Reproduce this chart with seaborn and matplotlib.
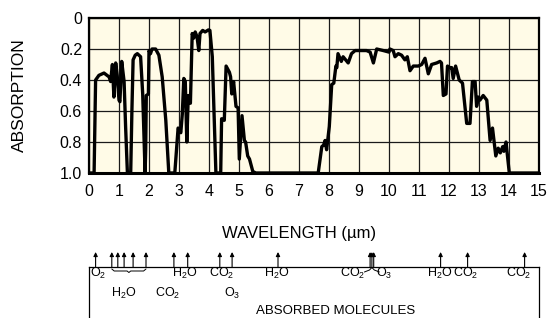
import matplotlib
matplotlib.use("Agg")
import matplotlib.pyplot as plt
import seaborn as sns
import pandas as pd

# absorption spectrum
wavelength = [0, 0.17, 0.22, 0.33, 0.5, 0.67, 0.72, 0.78, 0.83, 0.89, 0.94, 1.0, 1.03, 1.09,
              1.17, 1.22, 1.28, 1.39, 1.43, 1.47, 1.54, 1.61, 1.72, 1.79, 1.87, 1.89, 1.91,
              1.98, 2.0, 2.05, 2.1, 2.22, 2.33, 2.44, 2.56, 2.66, 2.86, 2.97, 3.06, 3.11,
              3.16, 3.21, 3.26, 3.31, 3.38, 3.44, 3.49, 3.54, 3.6, 3.66, 3.7, 3.79, 3.87,
              3.98, 4.03, 4.11, 4.17, 4.23, 4.39, 4.42, 4.51, 4.57, 4.68, 4.72, 4.76, 4.82,
              4.9, 4.97, 5.01, 5.1, 5.18, 5.22, 5.29, 5.35, 5.46, 5.56, 7.64, 7.76, 7.82,
              7.87, 7.92, 8.01, 8.09, 8.16, 8.23, 8.26, 8.3, 8.41, 8.47, 8.64, 8.75, 8.87,
              9.03, 9.25, 9.37, 9.48, 9.59, 9.81, 10.0, 10.03, 10.14, 10.2, 10.31, 10.42,
              10.53, 10.61, 10.7, 10.81, 10.98, 11.09, 11.2, 11.31, 11.42, 11.59, 11.7,
              11.75, 11.81, 11.9, 11.95, 12.03, 12.09, 12.14, 12.22, 12.34, 12.45, 12.59,
              12.7, 12.78, 12.87, 12.92, 12.98, 13.03, 13.14, 13.26, 13.37, 13.45, 13.56,
              13.64, 13.71, 13.79, 13.83, 13.9, 14.01, 15]
absorption = [1.0, 1.0, 0.40, 0.37, 0.355, 0.38, 0.41, 0.30, 0.51, 0.29, 0.37, 0.53, 0.54, 0.28,
              0.41, 0.70, 1.0, 1.0, 0.60, 0.27, 0.24, 0.23, 0.25, 0.49, 1.0, 0.85, 0.50,
              0.49, 0.21, 0.23, 0.20, 0.20, 0.24, 0.38, 0.66, 1.0, 1.0, 0.71, 0.74, 0.62,
              0.39, 0.41, 0.80, 0.50, 0.55, 0.10, 0.13, 0.09, 0.12, 0.21, 0.10, 0.08, 0.09,
              0.077, 0.08, 0.25, 0.62, 1.0, 1.0, 0.65, 0.66, 0.31, 0.35, 0.38, 0.49, 0.41,
              0.57, 0.58, 0.91, 0.63, 0.79, 0.80, 0.89, 0.91, 0.99, 1.0, 1.0, 0.83, 0.82,
              0.79, 0.85, 0.70, 0.43, 0.42, 0.31, 0.32, 0.23, 0.28, 0.25, 0.29, 0.23, 0.21,
              0.21, 0.21, 0.22, 0.29, 0.20, 0.21, 0.22, 0.20, 0.21, 0.25, 0.23, 0.24,
              0.27, 0.25, 0.34, 0.31, 0.31, 0.30, 0.26, 0.36, 0.30, 0.29, 0.28,
              0.29, 0.50, 0.49, 0.31, 0.32, 0.32, 0.39, 0.31, 0.40, 0.42, 0.68,
              0.68, 0.41, 0.41, 0.57, 0.51, 0.53, 0.50, 0.53, 0.79, 0.71, 0.89,
              0.84, 0.87, 0.83, 0.86, 0.80, 1.0, 1.0]

# absorption band markers (arrows) under the chart
band_positions = [0.22, 0.76, 0.96, 1.17, 1.47, 1.9, 2.83, 3.29, 4.36, 4.77, 6.3,
                  9.37, 9.43, 9.49, 11.72, 12.62, 14.52]
row1_labels = ["O$_\\mathregular{2}$", "H$_\\mathregular{2}$O", "CO$_\\mathregular{2}$",
               "H$_\\mathregular{2}$O", "CO$_\\mathregular{2}$", "O$_\\mathregular{3}$",
               "H$_\\mathregular{2}$O", "CO$_\\mathregular{2}$", "CO$_\\mathregular{2}$"]
row1_x = [0.3, 3.2, 4.42, 6.25, 8.8, 9.83, 11.68, 12.57, 14.33]
row2_labels = ["H$_\\mathregular{2}$O", "CO$_\\mathregular{2}$", "O$_\\mathregular{3}$"]
row2_x = [1.17, 2.62, 4.77]

df = pd.DataFrame({"wavelength": wavelength, "absorption": absorption})

sns.set_theme(style="white")
plt.rcParams["font.family"] = ["Liberation Sans", "DejaVu Sans"]
plt.rcParams["mathtext.fontset"] = "custom"
plt.rcParams["mathtext.rm"] = "Liberation Sans"

fig = plt.figure(figsize=(5.48, 3.18), dpi=100)
ax = fig.add_axes([89 / 548, 1 - 173 / 318, 450 / 548, 155 / 318])
ax.set_facecolor("#fffbe7")

sns.lineplot(data=df, x="wavelength", y="absorption", ax=ax, color="black",
             lw=2.4, estimator=None, sort=False)

ax.set_xlim(0, 15)
ax.set_ylim(1.0, 0)
ax.set_xticks(range(16))
ax.set_yticks([0, 0.2, 0.4, 0.6, 0.8, 1.0])
ax.set_yticklabels(["0", "0.2", "0.4", "0.6", "0.8", "1.0"])
ax.tick_params(axis="both", length=0, labelsize=11.5, colors="black")
ax.tick_params(axis="x", pad=8)
ax.tick_params(axis="y", pad=5)
ax.grid(True, color="#1a1a1a", lw=0.9)
ax.set_axisbelow(True)
for side in ["top", "left", "right"]:
    ax.spines[side].set_color("black")
    ax.spines[side].set_linewidth(1.6)
ax.spines["bottom"].set_color("black")
ax.spines["bottom"].set_linewidth(2.2)

ax.set_ylabel("ABSORPTION", fontsize=12.5, color="black")
ax.yaxis.set_label_coords(-0.138, 0.5)
ax.set_xlabel("WAVELENGTH (µm)", fontsize=12, color="black")
ax.xaxis.set_label_coords(0.467, -0.345)

# molecules box
bx = fig.add_axes([89 / 548, 0, 450 / 548, 51 / 318])
bx.set_xlim(0, 15)
bx.set_ylim(51, 0)
bx.set_xticks([])
bx.set_yticks([])
bx.set_facecolor("white")
bx.spines["bottom"].set_visible(False)
for side in ["top", "left", "right"]:
    bx.spines[side].set_color("black")
    bx.spines[side].set_linewidth(0.9)

for x in band_positions:
    bx.annotate("", xy=(x, -15), xytext=(x, 0),
                arrowprops=dict(arrowstyle="-|>", color="black", lw=0.8,
                                mutation_scale=6, shrinkA=0, shrinkB=0),
                annotation_clip=False)

for lab, x in zip(row1_labels, row1_x):
    bx.text(x, 6, lab, ha="center", va="center", fontsize=9, color="black")
for lab, x in zip(row2_labels, row2_x):
    bx.text(x, 26, lab, ha="center", va="center", fontsize=9, color="black")
bx.text(8.23, 44, "ABSORBED MOLECULES", ha="center", va="center", fontsize=9.5, color="black")

# brace grouping the near-infrared water bands
b0, b1 = band_positions[1], band_positions[5]
mid = (b0 + b1) / 2
bx.plot([b0, b0 + 0.08, mid - 0.06, mid, mid + 0.06, b1 - 0.08, b1],
        [2, 4, 4, 5.5, 4, 4, 2], color="black", lw=0.7)
# small brace joining CO2 and O3 at 9.6 um
c = band_positions[12]
bx.plot([c - 0.25, c - 0.08, c, c + 0.08, c + 0.25], [5, 3, 0.5, 3, 5],
        color="black", lw=0.7)

fig.savefig("out.png", dpi=100)
